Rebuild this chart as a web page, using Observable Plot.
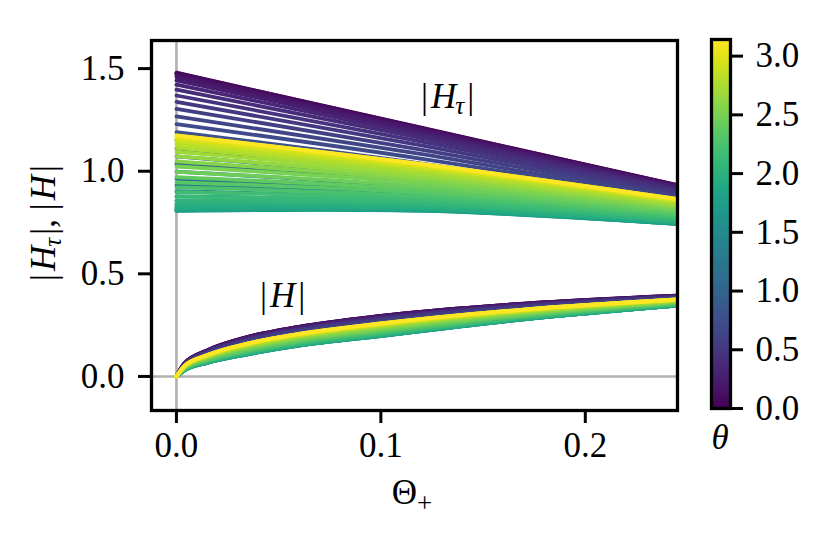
<!DOCTYPE html>
<html>
<head>
<meta charset="utf-8">
<script src="https://cdn.jsdelivr.net/npm/d3@7"></script>
<script src="https://cdn.jsdelivr.net/npm/@observablehq/plot@0.6"></script>
<style>
  html, body { margin: 0; padding: 0; background: white; overflow: hidden; }
  #wrap { position: relative; width: 829px; height: 542px; }
  #wrap svg { position: absolute; left: 0; top: 0; max-width: none; }
</style>
</head>
<body>
<div id="wrap"></div>
<script>
// ---- data ----
// colour parameter theta (50 curves, 0 .. pi)
const theta = [0, 0.0641, 0.1282, 0.1923, 0.2565, 0.3206, 0.3847, 0.4488, 0.5129, 0.5770,
  0.6411, 0.7053, 0.7694, 0.8335, 0.8976, 0.9617, 1.0258, 1.0899, 1.1541, 1.2182,
  1.2823, 1.3464, 1.4105, 1.4746, 1.5387, 1.6029, 1.6670, 1.7311, 1.7952, 1.8593,
  1.9234, 1.9875, 2.0517, 2.1158, 2.1799, 2.2440, 2.3081, 2.3722, 2.4363, 2.5004,
  2.5646, 2.6287, 2.6928, 2.7569, 2.8210, 2.8851, 2.9493, 3.0134, 3.0775, 3.1416];

// |H_tau| sampled at Theta_+ = 0, 0.1225, 0.2451
const xTau = [0, 0.1225, 0.2451];
const hTauStart = [1.4800,1.4776,1.4704,1.4586,1.4422,1.4216,1.3971,1.3690,1.3377,1.3037,
  1.2675,1.2296,1.1905,1.1509,1.1112,1.0721,1.0340,0.9976,0.9633,0.9315,
  0.9027,0.8773,0.8554,0.8374,0.8235,0.8137,0.8082,0.8068,0.8094,0.8159,
  0.8262,0.8398,0.8566,0.8760,0.8976,0.9210,0.9458,0.9714,0.9973,1.0231,
  1.0481,1.0720,1.0942,1.1144,1.1322,1.1472,1.1592,1.1679,1.1732,1.1750];
const hTauMid = [1.2060,1.2046,1.2003,1.1932,1.1834,1.1711,1.1565,1.1398,1.1211,1.1009,
  1.0793,1.0567,1.0334,1.0098,0.9862,0.9630,0.9403,0.9187,0.8984,0.8796,
  0.8625,0.8476,0.8347,0.8242,0.8161,0.8106,0.8076,0.8070,0.8089,0.8131,
  0.8196,0.8280,0.8384,0.8502,0.8636,0.8778,0.8930,0.9085,0.9243,0.9400,
  0.9552,0.9697,0.9832,0.9954,1.0062,1.0153,1.0226,1.0279,1.0311,1.0322];
const hTauEnd = [0.9320,0.9313,0.9292,0.9258,0.9210,0.9150,0.9079,0.8997,0.8906,0.8808,
  0.8703,0.8594,0.8481,0.8367,0.8254,0.8142,0.8034,0.7931,0.7835,0.7746,
  0.7667,0.7598,0.7540,0.7493,0.7459,0.7438,0.7429,0.7433,0.7449,0.7476,
  0.7515,0.7563,0.7621,0.7686,0.7759,0.7836,0.7917,0.8000,0.8084,0.8166,
  0.8247,0.8323,0.8394,0.8458,0.8514,0.8562,0.8600,0.8628,0.8644,0.8650];

// |H| sampled at these Theta_+ values, one row per theta
const xH = [0, 0.004, 0.015, 0.035, 0.06, 0.1, 0.17, 0.2451];
const hRows = [
  [0,0.065,0.127,0.193,0.242,0.295,0.355,0.394],
  [0,0.065,0.127,0.193,0.242,0.295,0.355,0.394],
  [0,0.065,0.126,0.192,0.241,0.294,0.354,0.393],
  [0,0.064,0.125,0.190,0.239,0.292,0.352,0.392],
  [0,0.063,0.124,0.188,0.237,0.289,0.351,0.391],
  [0,0.062,0.122,0.185,0.234,0.286,0.348,0.390],
  [0,0.061,0.119,0.182,0.230,0.283,0.345,0.388],
  [0,0.059,0.117,0.179,0.226,0.278,0.342,0.386],
  [0,0.057,0.114,0.175,0.222,0.274,0.338,0.383],
  [0,0.056,0.111,0.170,0.217,0.269,0.334,0.381],
  [0,0.054,0.107,0.166,0.212,0.263,0.330,0.378],
  [0,0.052,0.104,0.161,0.207,0.258,0.326,0.375],
  [0,0.050,0.100,0.156,0.202,0.252,0.321,0.372],
  [0,0.048,0.097,0.151,0.196,0.246,0.317,0.370],
  [0,0.045,0.093,0.145,0.191,0.240,0.312,0.367],
  [0,0.043,0.089,0.140,0.185,0.234,0.307,0.364],
  [0,0.041,0.086,0.136,0.180,0.229,0.303,0.361],
  [0,0.039,0.083,0.131,0.175,0.224,0.299,0.358],
  [0,0.038,0.079,0.127,0.170,0.219,0.295,0.356],
  [0,0.036,0.077,0.123,0.166,0.214,0.291,0.353],
  [0,0.035,0.074,0.119,0.162,0.210,0.288,0.351],
  [0,0.033,0.072,0.116,0.159,0.206,0.285,0.350],
  [0,0.032,0.070,0.113,0.156,0.203,0.283,0.348],
  [0,0.031,0.068,0.111,0.153,0.201,0.281,0.347],
  [0,0.031,0.067,0.110,0.152,0.199,0.279,0.346],
  [0,0.030,0.066,0.109,0.151,0.198,0.278,0.345],
  [0,0.030,0.066,0.108,0.150,0.197,0.278,0.345],
  [0,0.030,0.066,0.108,0.150,0.197,0.278,0.345],
  [0,0.030,0.067,0.109,0.151,0.198,0.279,0.345],
  [0,0.031,0.067,0.110,0.152,0.199,0.280,0.346],
  [0,0.031,0.069,0.112,0.154,0.201,0.281,0.347],
  [0,0.032,0.070,0.114,0.156,0.203,0.283,0.348],
  [0,0.033,0.072,0.116,0.159,0.206,0.285,0.350],
  [0,0.034,0.074,0.119,0.162,0.210,0.288,0.351],
  [0,0.036,0.076,0.122,0.165,0.213,0.291,0.353],
  [0,0.037,0.078,0.125,0.169,0.217,0.294,0.355],
  [0,0.039,0.081,0.129,0.173,0.221,0.297,0.357],
  [0,0.040,0.084,0.132,0.176,0.225,0.300,0.359],
  [0,0.042,0.086,0.136,0.180,0.229,0.303,0.361],
  [0,0.043,0.089,0.140,0.184,0.233,0.307,0.363],
  [0,0.045,0.091,0.143,0.188,0.237,0.310,0.365],
  [0,0.046,0.094,0.146,0.192,0.241,0.313,0.367],
  [0,0.047,0.096,0.150,0.195,0.245,0.316,0.369],
  [0,0.048,0.098,0.152,0.198,0.248,0.318,0.371],
  [0,0.049,0.100,0.155,0.201,0.251,0.320,0.372],
  [0,0.050,0.101,0.157,0.203,0.253,0.322,0.373],
  [0,0.051,0.102,0.159,0.205,0.255,0.324,0.374],
  [0,0.051,0.103,0.160,0.206,0.257,0.325,0.375],
  [0,0.052,0.104,0.160,0.207,0.258,0.326,0.375],
  [0,0.052,0.104,0.161,0.207,0.258,0.326,0.375]
];

const xTicks = [0, 0.1, 0.2];
const yTicks = [0, 0.5, 1.0, 1.5];
const cbTicks = [0, 0.5, 1.0, 1.5, 2.0, 2.5, 3.0];

// ---- tables built from the arrays ----
const tauData = theta.flatMap((t, i) => xTau.map((x, k) => ({
  i, theta: t, x, y: [hTauStart[i], hTauMid[i], hTauEnd[i]][k]
})));
const hData = theta.flatMap((t, i) => xH.map((x, k) => ({
  i, theta: t, x, y: hRows[i][k]
})));

const FONT = "'Liberation Serif', 'DejaVu Serif', serif";
const colorScale = {type: "linear", scheme: "viridis", domain: [0, Math.PI]};
const LW = 3.8;

const main = Plot.plot({
  width: 829, height: 542,
  marginLeft: 151, marginRight: 152, marginTop: 40, marginBottom: 132,
  style: {fontFamily: FONT, fontSize: "35px", background: "transparent", color: "black"},
  x: {domain: [-0.0122, 0.2451], label: null},
  y: {domain: [-0.166, 1.637], label: null},
  color: colorScale,
  marks: [
    Plot.ruleX([0], {stroke: "#b0b0b0", strokeWidth: 2.6}),
    Plot.ruleY([0], {stroke: "#b0b0b0", strokeWidth: 2.6}),
    Plot.line(tauData, {x: "x", y: "y", z: "i", stroke: "theta", strokeWidth: LW, curve: "natural", clip: true}),
    Plot.line(hData, {x: "x", y: "y", z: "i", stroke: "theta", strokeWidth: LW, curve: "monotone-x", clip: true}),
    Plot.axisX({ticks: xTicks, tickFormat: d3.format(".1f"), tickSize: 13, tickPadding: 9, strokeWidth: 3, label: null, fontSize: 35}),
    Plot.axisY({ticks: yTicks, tickFormat: d3.format(".1f"), tickSize: 13, tickPadding: 14, strokeWidth: 3, label: null, fontSize: 35}),
    Plot.frame({stroke: "black", strokeWidth: 3.3})
  ]
});

// colour bar (same canvas size, overlaid)
const cbSteps = d3.range(256).map(k => k * Math.PI / 256);
const cbStep = Math.PI / 256;
const cbar = Plot.plot({
  width: 829, height: 542,
  marginLeft: 711, marginRight: 99, marginTop: 39, marginBottom: 134,
  style: {fontFamily: FONT, fontSize: "35px", background: "transparent", color: "black"},
  x: {domain: [0, 1], axis: null},
  y: {domain: [0, Math.PI], label: null},
  color: colorScale,
  marks: [
    Plot.rect(cbSteps, {x1: 0, x2: 1, y1: d => d, y2: d => Math.min(Math.PI, d + cbStep * 1.6), fill: d => d + cbStep / 2, shapeRendering: "crispEdges"}),
    Plot.axisY({anchor: "right", ticks: cbTicks, tickFormat: d3.format(".1f"), tickSize: 12, tickPadding: 13, strokeWidth: 3, label: null, fontSize: 35}),
    Plot.frame({stroke: "black", strokeWidth: 3.3})
  ]
});

const wrap = document.getElementById("wrap");
wrap.appendChild(main);
wrap.appendChild(cbar);

// math-style labels and annotations
const svg = d3.select(main);
const g = svg.append("g").attr("font-family", FONT).attr("font-size", 35).attr("fill", "black");

function hTau(sel) {
  sel.append("tspan").text("|");
  sel.append("tspan").attr("dx", 3).attr("font-style", "italic").text("H");
  sel.append("tspan").attr("font-style", "italic").attr("font-size", 25).attr("dy", 6).attr("dx", -1).text("τ");
  sel.append("tspan").attr("dy", -6).attr("dx", 3).text("|");
}

// y label |H_tau|, |H|
const yl = g.append("text").attr("transform", "translate(55,223) rotate(-90)").attr("text-anchor", "middle");
hTau(yl);
yl.append("tspan").text(", |");
yl.append("tspan").attr("dx", 3).attr("font-style", "italic").text("H");
yl.append("tspan").attr("dx", 3).text("|");

// x label Theta_+
const xl = g.append("text").attr("x", 412).attr("y", 504).attr("text-anchor", "middle");
xl.append("tspan").text("Θ");
xl.append("tspan").attr("font-size", 27).attr("dy", 8).text("+");

// annotation |H_tau|
const a1 = g.append("text").attr("x", 421).attr("y", 108).attr("text-anchor", "start");
hTau(a1);

// annotation |H|
const a2 = g.append("text").attr("x", 260).attr("y", 307).attr("text-anchor", "start");
a2.append("tspan").text("|");
a2.append("tspan").attr("dx", 3).attr("font-style", "italic").text("H");
a2.append("tspan").attr("dx", 3).text("|");

// colour bar label theta
d3.select(cbar).append("text").attr("x", 720).attr("y", 449).attr("text-anchor", "middle")
  .attr("font-family", FONT).attr("font-size", 35).attr("font-style", "italic").attr("fill", "black").text("θ");
</script>
</body>
</html>
